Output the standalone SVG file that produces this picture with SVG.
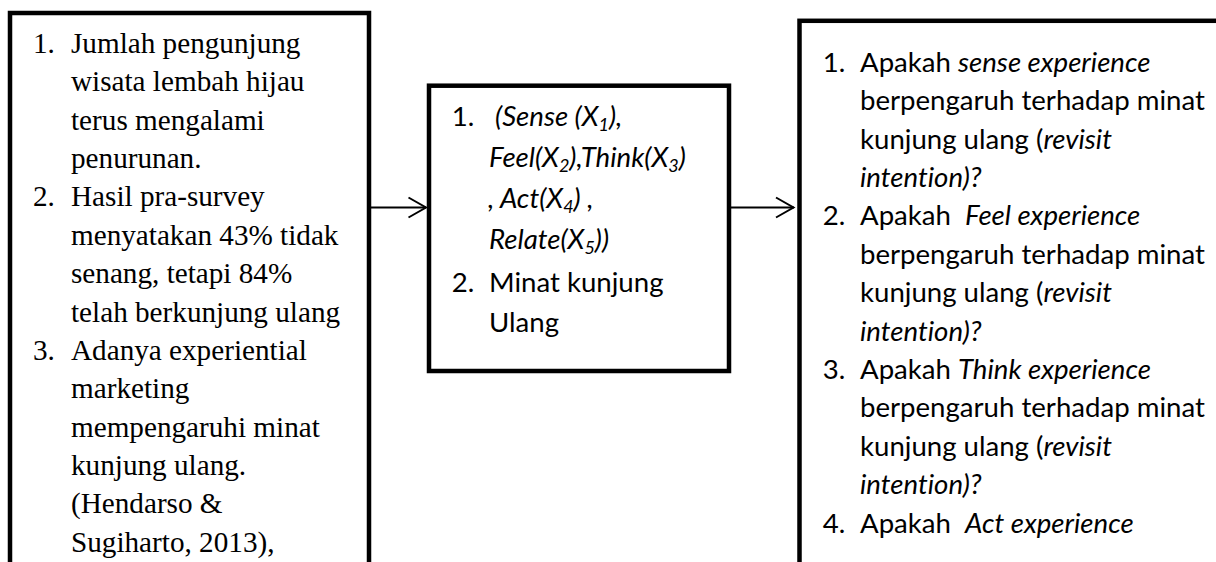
<svg xmlns="http://www.w3.org/2000/svg" width="1216" height="562" viewBox="0 0 1216 562">
<defs>
<style>
.box{fill:#fff;stroke:#000;stroke-width:4.5}
.serif{font-family:"Liberation Serif","Times New Roman",serif;font-size:29.2px;fill:#000}
.sans{font-family:Lato,"Noto Sans",sans-serif;font-size:27.6px;fill:#000;font-variant-ligatures:none}
.it{font-style:italic}
.sub{font-size:18px}
.conn{fill:none;stroke:#000;stroke-width:2}
</style>
</defs>
<rect width="1216" height="562" fill="#fff"/>
<g id="node-problems">
<rect class="box" x="10" y="13" width="359" height="580"/>
<text class="serif">
<tspan x="33" y="53">1.</tspan><tspan x="71" y="53">Jumlah pengunjung</tspan>
<tspan x="71" y="91.4">wisata lembah hijau</tspan>
<tspan x="71" y="129.7">terus mengalami</tspan>
<tspan x="71" y="168">penurunan.</tspan>
<tspan x="33" y="206.4">2.</tspan><tspan x="71" y="206.4">Hasil pra-survey</tspan>
<tspan x="71" y="244.8">menyatakan 43% tidak</tspan>
<tspan x="71" y="283">senang, tetapi 84%</tspan>
<tspan x="71" y="321.5">telah berkunjung ulang</tspan>
<tspan x="33" y="359.8">3.</tspan><tspan x="71" y="359.8">Adanya experiential</tspan>
<tspan x="71" y="398">marketing</tspan>
<tspan x="71" y="436.5">mempengaruhi minat</tspan>
<tspan x="71" y="474.9">kunjung ulang.</tspan>
<tspan x="71" y="513">(Hendarso &amp;</tspan>
<tspan x="71" y="551.6">Sugiharto, 2013),</tspan>
</text>
</g>
<g id="node-variables">
<rect class="box" x="429" y="85.7" width="300" height="285.3"/>
<text class="sans">
<tspan x="451.7" y="126">1.</tspan><tspan x="495" y="126" class="it">(Sense (X<tspan class="sub" dy="5">1</tspan><tspan dy="-5">),</tspan></tspan>
</text>
<text class="sans it">
<tspan x="489" y="167">Feel(X<tspan class="sub" dy="5">2</tspan><tspan dy="-5">),Think(X</tspan><tspan class="sub" dy="5">3</tspan><tspan dy="-5">)</tspan></tspan>
</text>
<text class="sans it">
<tspan x="488" y="208">, Act(X<tspan class="sub" dy="5">4</tspan><tspan dy="-5">) ,</tspan></tspan>
</text>
<text class="sans it">
<tspan x="489" y="249">Relate(X<tspan class="sub" dy="5">5</tspan><tspan dy="-5">))</tspan></tspan>
</text>
<text class="sans">
<tspan x="451.7" y="291.5">2.</tspan><tspan x="489" y="291.5">Minat kunjung</tspan>
<tspan x="489" y="332">Ulang</tspan>
</text>
</g>
<g id="node-questions">
<rect class="box" x="799.5" y="20.8" width="440" height="600"/>
<text class="sans">
<tspan x="822.7" y="71.7">1.</tspan><tspan x="860" y="71.7">Apakah <tspan class="it">sense experience</tspan></tspan>
<tspan x="860" y="110">berpengaruh terhadap minat</tspan>
<tspan x="860" y="148.5">kunjung ulang (<tspan class="it">revisit</tspan></tspan>
<tspan x="860" y="187" class="it">intention)?</tspan>
<tspan x="822.7" y="225.3">2.</tspan><tspan x="860" y="225.3">Apakah <tspan class="it" dx="7">Feel experience</tspan></tspan>
<tspan x="860" y="263.7">berpengaruh terhadap minat</tspan>
<tspan x="860" y="302">kunjung ulang (<tspan class="it">revisit</tspan></tspan>
<tspan x="860" y="340.5" class="it">intention)?</tspan>
<tspan x="822.7" y="379">3.</tspan><tspan x="860" y="379">Apakah <tspan class="it">Think experience</tspan></tspan>
<tspan x="860" y="417">berpengaruh terhadap minat</tspan>
<tspan x="860" y="455.7">kunjung ulang (<tspan class="it">revisit</tspan></tspan>
<tspan x="860" y="494" class="it">intention)?</tspan>
<tspan x="822.7" y="532.5">4.</tspan><tspan x="860" y="532.5">Apakah <tspan class="it" dx="7">Act experience</tspan></tspan>
</text>
</g>
<g id="connectors">
<line class="conn" x1="371" y1="207.5" x2="426" y2="207.5"/>
<polyline class="conn" points="408.5,197.5 426,207.5 408.5,217.5"/>
<line class="conn" x1="731" y1="207.5" x2="794" y2="207.5"/>
<polyline class="conn" points="776,197.5 793.5,207.5 776,217.5"/>
</g>
</svg>
